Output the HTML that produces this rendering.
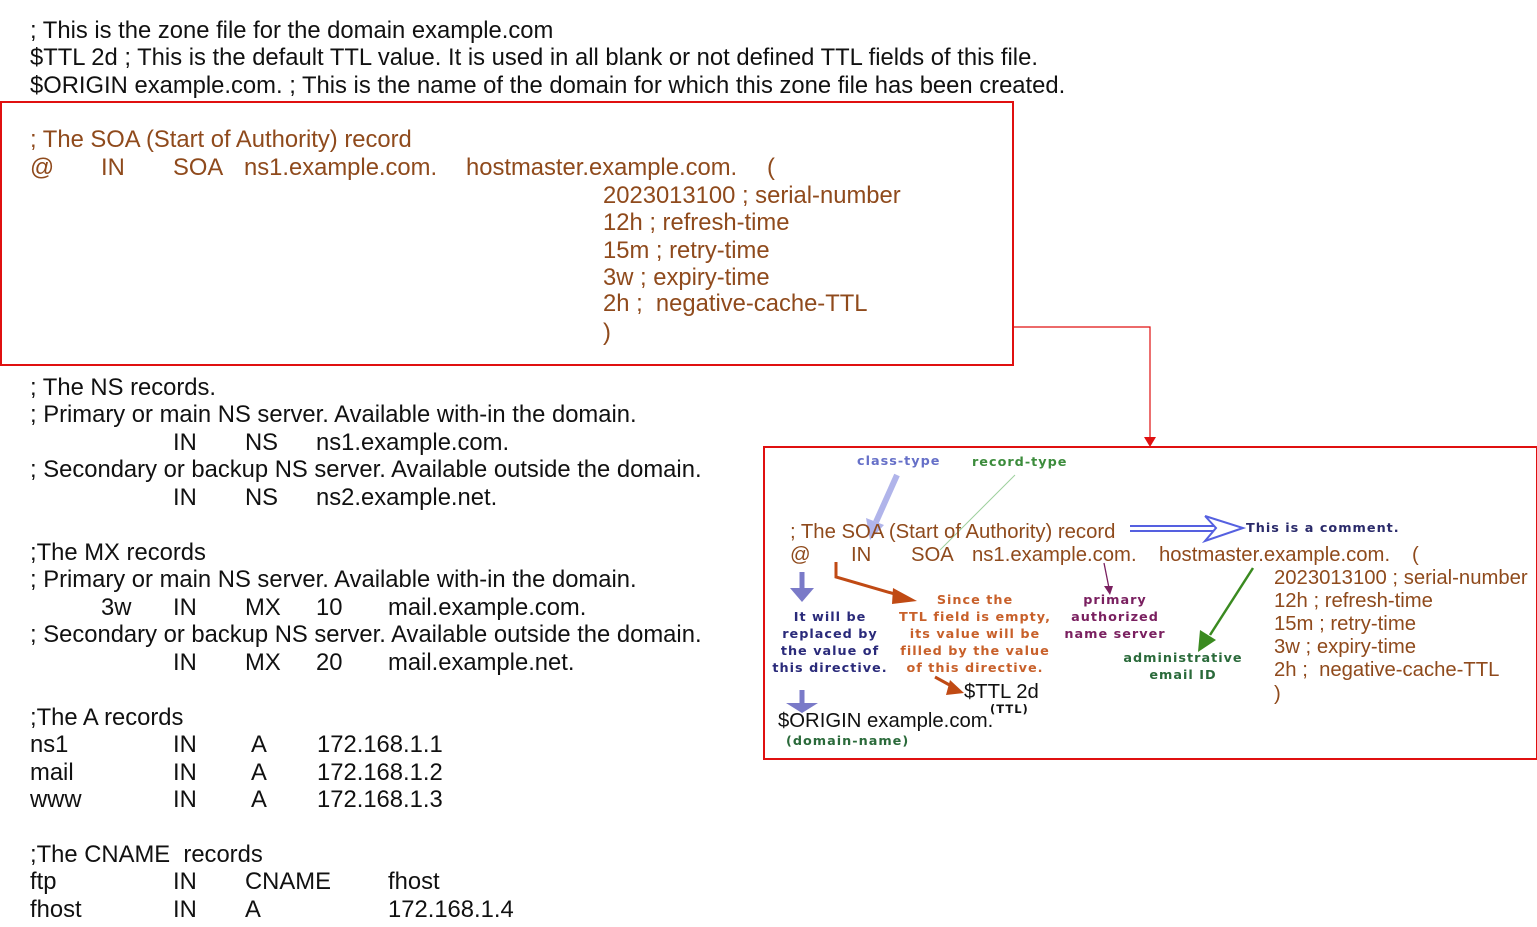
<!DOCTYPE html>
<html><head><meta charset="utf-8"><style>
body{margin:0;width:1537px;height:927px;background:#fff;position:relative;overflow:hidden;font-family:"Liberation Sans",Arial,sans-serif}
.t{position:absolute;white-space:pre;font-size:23.8px;line-height:24px;color:#111}
.b{color:#8f4a1c}
.r{position:absolute;white-space:pre;font-size:20.3px;line-height:22px;color:#8f4a1c}
.s{position:absolute;white-space:pre;font-family:"DejaVu Sans",sans-serif;font-weight:bold;font-size:12.8px;line-height:17px;letter-spacing:1px;text-align:center}
.box{position:absolute;border:2px solid #e01010}
</style></head><body>
<div class="t" style="left:30px;top:19px">; This is the zone file for the domain example.com</div>
<div class="t" style="left:30px;top:46px">$TTL 2d ; This is the default TTL value. It is used in all blank or not defined TTL fields of this file.</div>
<div class="t" style="left:30px;top:74px">$ORIGIN example.com. ; This is the name of the domain for which this zone file has been created.</div>

<div class="box" style="left:0;top:101px;width:1010px;height:261px"></div>
<div class="t b" style="left:30px;top:128px">; The SOA (Start of Authority) record</div>
<div class="t b" style="left:30px;top:156px">@</div>
<div class="t b" style="left:101px;top:156px">IN</div>
<div class="t b" style="left:173px;top:156px">SOA</div>
<div class="t b" style="left:244px;top:156px">ns1.example.com.</div>
<div class="t b" style="left:466px;top:156px">hostmaster.example.com.</div>
<div class="t b" style="left:767px;top:156px">(</div>
<div class="t b" style="left:603px;top:184px">2023013100 ; serial-number</div>
<div class="t b" style="left:603px;top:211px">12h ; refresh-time</div>
<div class="t b" style="left:603px;top:239px">15m ; retry-time</div>
<div class="t b" style="left:603px;top:266px">3w ; expiry-time</div>
<div class="t b" style="left:603px;top:292px">2h ;  negative-cache-TTL</div>
<div class="t b" style="left:603px;top:321px">)</div>

<div class="t" style="left:30px;top:376px">; The NS records.</div>
<div class="t" style="left:30px;top:403px">; Primary or main NS server. Available with-in the domain.</div>
<div class="t" style="left:173px;top:431px">IN</div><div class="t" style="left:245px;top:431px">NS</div><div class="t" style="left:316px;top:431px">ns1.example.com.</div>
<div class="t" style="left:30px;top:458px">; Secondary or backup NS server. Available outside the domain.</div>
<div class="t" style="left:173px;top:486px">IN</div><div class="t" style="left:245px;top:486px">NS</div><div class="t" style="left:316px;top:486px">ns2.example.net.</div>

<div class="t" style="left:30px;top:541px">;The MX records</div>
<div class="t" style="left:30px;top:568px">; Primary or main NS server. Available with-in the domain.</div>
<div class="t" style="left:101px;top:596px">3w</div><div class="t" style="left:173px;top:596px">IN</div><div class="t" style="left:245px;top:596px">MX</div><div class="t" style="left:316px;top:596px">10</div><div class="t" style="left:388px;top:596px">mail.example.com.</div>
<div class="t" style="left:30px;top:623px">; Secondary or backup NS server. Available outside the domain.</div>
<div class="t" style="left:173px;top:651px">IN</div><div class="t" style="left:245px;top:651px">MX</div><div class="t" style="left:316px;top:651px">20</div><div class="t" style="left:388px;top:651px">mail.example.net.</div>

<div class="t" style="left:30px;top:706px">;The A records</div>
<div class="t" style="left:30px;top:733px">ns1</div><div class="t" style="left:173px;top:733px">IN</div><div class="t" style="left:251px;top:733px">A</div><div class="t" style="left:317px;top:733px">172.168.1.1</div>
<div class="t" style="left:30px;top:761px">mail</div><div class="t" style="left:173px;top:761px">IN</div><div class="t" style="left:251px;top:761px">A</div><div class="t" style="left:317px;top:761px">172.168.1.2</div>
<div class="t" style="left:30px;top:788px">www</div><div class="t" style="left:173px;top:788px">IN</div><div class="t" style="left:251px;top:788px">A</div><div class="t" style="left:317px;top:788px">172.168.1.3</div>

<div class="t" style="left:30px;top:843px">;The CNAME  records</div>
<div class="t" style="left:30px;top:870px">ftp</div><div class="t" style="left:173px;top:870px">IN</div><div class="t" style="left:245px;top:870px">CNAME</div><div class="t" style="left:388px;top:870px">fhost</div>
<div class="t" style="left:30px;top:898px">fhost</div><div class="t" style="left:173px;top:898px">IN</div><div class="t" style="left:245px;top:898px">A</div><div class="t" style="left:388px;top:898px">172.168.1.4</div>

<div class="box" style="left:763px;top:446px;width:771px;height:310px"></div>

<svg style="position:absolute;left:0;top:0" width="1537" height="927">
<polyline points="1012,327 1150,327 1150,438" fill="none" stroke="#e01010" stroke-width="1.2"/>
<polygon points="1144,437 1156,437 1150,447" fill="#e01010"/>
<line x1="897" y1="475" x2="876" y2="522" stroke="#b0b4ea" stroke-width="6"/>
<polygon points="866,518 884,525 870,540" fill="#b0b4ea"/>
<line x1="1015" y1="475" x2="940" y2="550" stroke="#9cd09c" stroke-width="1"/>
<line x1="1130" y1="526" x2="1215" y2="526" stroke="#5560e0" stroke-width="2"/>
<line x1="1130" y1="531" x2="1215" y2="531" stroke="#5560e0" stroke-width="2"/>
<polyline points="1205,516 1243,528 1205,541 1216,528 1205,516" fill="#fff" stroke="#5560e0" stroke-width="2"/>
<polyline points="836,562 836,577 905,597" fill="none" stroke="#c04a14" stroke-width="3"/>
<polygon points="893,588 917,601 892,604" fill="#c04a14"/>
<line x1="1104" y1="563" x2="1109" y2="588" stroke="#7a2060" stroke-width="1.3"/>
<polygon points="1104,586 1113,586 1110,595" fill="#7a2060"/>
<line x1="1253" y1="568" x2="1210" y2="635" stroke="#3a8a20" stroke-width="2.5"/>
<polygon points="1200,630 1216,640 1198,652" fill="#3a8a20"/>
<line x1="802" y1="572" x2="802" y2="590" stroke="#7a7ac8" stroke-width="5"/>
<polygon points="790,588 814,588 802,602" fill="#7a7ac8"/>
<line x1="802" y1="690" x2="802" y2="704" stroke="#7a7ac8" stroke-width="5"/>
<polygon points="786,703 818,703 802,713" fill="#7a7ac8"/>
<line x1="935" y1="677" x2="955" y2="688" stroke="#c04a14" stroke-width="3"/>
<polygon points="950,680 964,693 946,695" fill="#c04a14"/>
</svg>

<div class="s" style="left:857px;top:453px;color:#6670c8">class-type</div>
<div class="s" style="left:972px;top:454px;color:#3c8c3c">record-type</div>
<div class="r" style="left:790px;top:521px">; The SOA (Start of Authority) record</div>
<div class="s" style="left:1246px;top:520px;color:#2a2a6a">This is a comment.</div>
<div class="r" style="left:790px;top:544px">@</div>
<div class="r" style="left:851px;top:544px">IN</div>
<div class="r" style="left:911px;top:544px">SOA</div>
<div class="r" style="left:972px;top:544px">ns1.example.com.</div>
<div class="r" style="left:1159px;top:544px">hostmaster.example.com.</div>
<div class="r" style="left:1412px;top:544px">(</div>
<div class="r" style="left:1274px;top:567px">2023013100 ; serial-number</div>
<div class="r" style="left:1274px;top:590px">12h ; refresh-time</div>
<div class="r" style="left:1274px;top:613px">15m ; retry-time</div>
<div class="r" style="left:1274px;top:636px">3w ; expiry-time</div>
<div class="r" style="left:1274px;top:659px">2h ;  negative-cache-TTL</div>
<div class="r" style="left:1274px;top:683px">)</div>
<div class="s" style="left:766px;top:609px;width:128px;color:#2a2a7a">It will be
replaced by
the value of
this directive.</div>
<div class="s" style="left:890px;top:592px;width:170px;color:#c8602a">Since the
TTL field is empty,
its value will be
filled by the value
of this directive.</div>
<div class="s" style="left:1055px;top:592px;width:120px;color:#7a2060">primary
authorized
name server</div>
<div class="s" style="left:1113px;top:650px;width:140px;color:#2a6a3a">administrative
email ID</div>
<div class="r" style="left:964px;top:681px;color:#111">$TTL 2d</div>
<div class="s" style="left:990px;top:701px;font-size:11.5px;color:#111">(TTL)</div>
<div class="r" style="left:778px;top:710px;color:#111">$ORIGIN example.com.</div>
<div class="s" style="left:786px;top:733px;color:#2a6a3a">(domain-name)</div>
</body></html>
